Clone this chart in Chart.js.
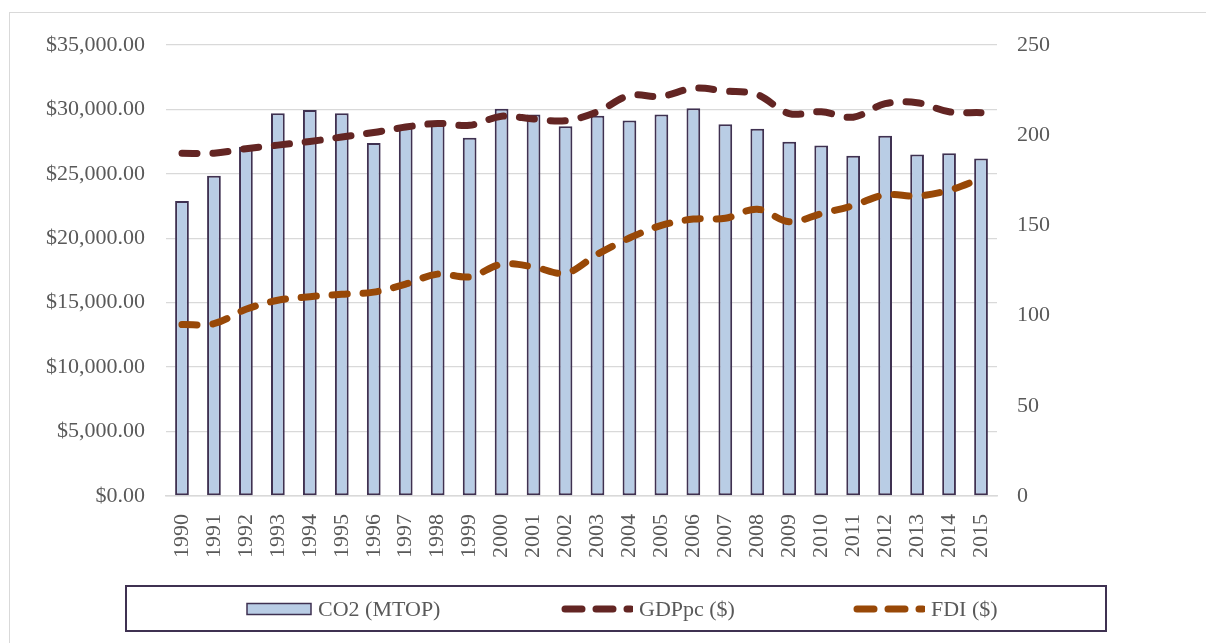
<!DOCTYPE html>
<html>
<head>
<meta charset="utf-8">
<script src="https://cdn.jsdelivr.net/npm/chart.js@4/dist/chart.umd.min.js"></script>
<style>
  html, body { margin: 0; padding: 0; background: #fff; overflow: hidden; }
  #wrap { position: relative; width: 1206px; height: 643px; }
  #frame { position: absolute; left: 9px; top: 12px; width: 1300px; height: 800px; border: 1px solid #D9D9D9; }
  #chart { position: absolute; left: 0; top: 0; }
  #legend { position: absolute; left: 125px; top: 585px; width: 978px; height: 43px; border: 2px solid #3F3151; }
  .item { position: absolute; top: 0; height: 43px; display: flex; align-items: center;
          font-family: 'Liberation Serif', 'Times New Roman', serif; font-size: 22px; color: #595959; white-space: nowrap; }
  .item svg { margin-right: 6px; }
</style>
</head>
<body>
<div id="wrap">
  <div id="frame"></div>
  <canvas id="chart" width="1206" height="643"></canvas>
  <div id="legend"></div>
</div>
<script>
const years = ['1990','1991','1992','1993','1994','1995','1996','1997','1998','1999','2000','2001','2002',
  '2003','2004','2005','2006','2007','2008','2009','2010','2011','2012','2013','2014','2015'];

const co2 = [22900, 24850, 27100, 29700, 29950, 29700, 27400, 28600, 28850, 27800, 30050, 29600, 28700,
  29500, 29150, 29600, 30100, 28850, 28500, 27500, 27200, 26400, 27950, 26500, 26600, 26200];

const gdppc = [190, 190, 192.5, 194.5, 196.5, 199, 201.5, 204.5, 206.5, 205.5, 210.5, 209, 208,
  213, 222, 221.5, 226, 224.5, 222.5, 212, 213, 210, 217.5, 218, 213, 212.5];

const fdi = [95, 95.5, 103.5, 108.5, 110.5, 111.8, 113, 117.5, 123, 121.5, 128.5, 127, 123.5,
  134, 143, 150, 153.5, 154, 159, 152, 156.5, 161, 167, 166.3, 169.5, 176];

const leftTicks = [0, 5000, 10000, 15000, 20000, 25000, 30000, 35000];
const rightTicks = [0, 50, 100, 150, 200, 250];

const barFill = '#B9CDE5';
const barEdge = '#3F3151';
const gdpColor = '#632523';
const fdiColor = '#984807';
const textColor = '#595959';
const gridColor = '#D9D9D9';
const font = { family: "'Liberation Serif', 'Times New Roman', serif", size: 22 };

new Chart(document.getElementById('chart'), {
  data: {
    labels: years,
    datasets: [
      {
        type: 'line', label: 'GDPpc ($)', data: gdppc, yAxisID: 'y1',
        borderColor: gdpColor, borderWidth: 7, borderDash: [15, 16], borderCapStyle: 'round',
        pointRadius: 0, tension: 0.35, fill: false, order: 1
      },
      {
        type: 'line', label: 'FDI ($)', data: fdi, yAxisID: 'y1',
        borderColor: fdiColor, borderWidth: 7, borderDash: [15, 16], borderCapStyle: 'round',
        pointRadius: 0, tension: 0.35, fill: false, order: 2
      },
      {
        type: 'bar', label: 'CO2 (MTOP)', data: co2, yAxisID: 'y',
        backgroundColor: barFill, borderColor: barEdge, borderWidth: 2, borderSkipped: false,
        categoryPercentage: 1, barPercentage: 0.43, order: 3
      }
    ]
  },
  options: {
    responsive: false,
    animation: false,
    layout: { padding: { top: 45, bottom: 0, left: 0, right: 0 } },
    plugins: { legend: { display: false }, tooltip: { enabled: false } },
    scales: {
      x: {
        grid: { display: false },
        border: { display: true, color: gridColor, width: 1.5 },
        ticks: { font: font, color: textColor, minRotation: 90, maxRotation: 90, padding: 10, autoSkip: false },
        afterFit: (s) => { s.height = 147; }
      },
      y: {
        position: 'left', min: 0, max: 35000,
        afterBuildTicks: (s) => { s.ticks = leftTicks.map(v => ({ value: v })); },
        grid: { color: gridColor, lineWidth: 1.3, drawTicks: false },
        border: { display: false },
        ticks: {
          font: font, color: textColor, padding: 21,
          callback: (v) => '$' + v.toLocaleString('en-US', { minimumFractionDigits: 2, maximumFractionDigits: 2 })
        },
        afterFit: (s) => { s.width = 166; }
      },
      y1: {
        position: 'right', min: 0, max: 250,
        afterBuildTicks: (s) => { s.ticks = rightTicks.map(v => ({ value: v })); },
        grid: { drawOnChartArea: false, drawTicks: false },
        border: { display: false },
        ticks: { font: font, color: textColor, padding: 20 },
        afterFit: (s) => { s.width = 209; }
      }
    }
  }
});

// legend, built from the dataset labels
const legendItems = [
  { label: 'CO2 (MTOP)', kind: 'bar', color: barFill, left: 119 },
  { label: 'GDPpc ($)', kind: 'line', color: gdpColor, left: 434 },
  { label: 'FDI ($)', kind: 'line', color: fdiColor, left: 726 }
];
const legend = document.getElementById('legend');
legendItems.forEach(it => {
  const div = document.createElement('div');
  div.className = 'item';
  div.style.left = it.left + 'px';
  let svg;
  if (it.kind === 'bar') {
    svg = '<svg width="66" height="14"><rect x="1" y="1.5" width="64" height="11" fill="' + it.color +
      '" stroke="' + barEdge + '" stroke-width="1.5"/></svg>';
  } else {
    svg = '<svg width="72" height="14"><line x1="4" y1="7" x2="70" y2="7" stroke="' + it.color +
      '" stroke-width="7" stroke-linecap="round" stroke-dasharray="17 14"/></svg>';
  }
  div.innerHTML = svg + '<span>' + it.label + '</span>';
  legend.appendChild(div);
});
</script>
</body>
</html>
